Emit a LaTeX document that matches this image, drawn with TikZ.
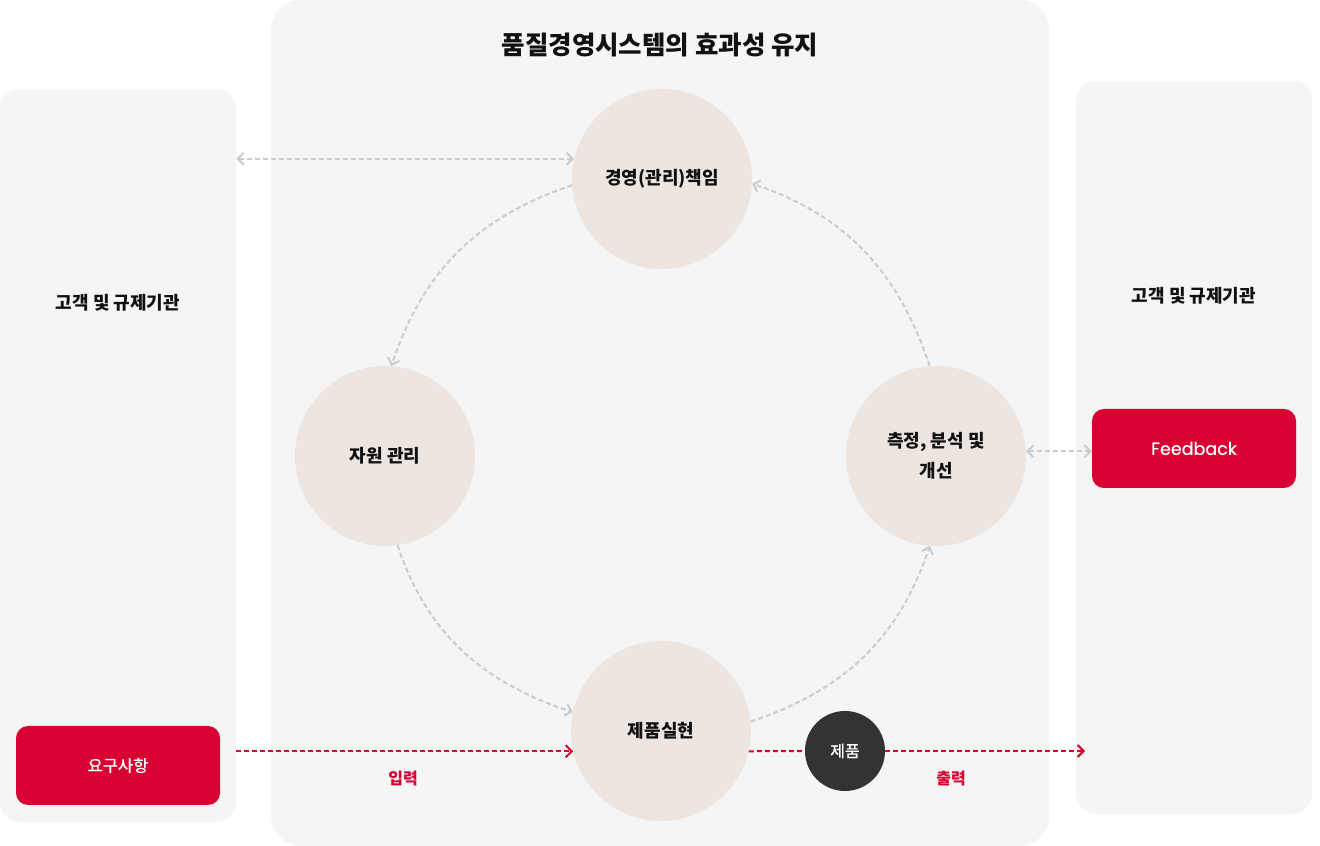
\documentclass[tikz,border=0pt]{standalone}
\usepackage{fontspec}
\setmainfont{Noto Sans CJK KR}
\newfontfamily\latinf[FakeBold=0.6]{Poppins}
\newfontfamily\krmed[FakeBold=0.9]{Noto Sans CJK KR}
\usetikzlibrary{arrows.meta}
\definecolor{panelc}{HTML}{F5F5F5}
\definecolor{circc}{HTML}{EDE5DF}
\definecolor{redc}{HTML}{D90032}
\definecolor{darkc}{HTML}{333333}
\definecolor{grayd}{HTML}{CCCCCC}
\definecolor{txtc}{HTML}{111111}
\tikzset{
  x=1pt,y=1pt,
  >={Straight Barb[length=6pt,width=12pt]},
  panel/.style={fill=panelc,draw=none,inner sep=0pt,anchor=south west},
  bigcirc/.style={circle,fill=circc,draw=none,minimum size=180pt,inner sep=0pt,
    font=\fontsize{18}{30}\selectfont\bfseries,text=txtc,align=center},
  redbox/.style={rectangle,rounded corners=12pt,fill=redc,draw=none,minimum width=204pt,
    minimum height=79pt,inner sep=0pt,text=white},
  gdash/.style={draw=grayd,line width=2pt,dash pattern=on 5pt off 3pt},
  rdash/.style={draw=redc,line width=2pt,dash pattern=on 5pt off 3pt},
  lbl/.style={font=\fontsize{18}{22}\selectfont\bfseries,text=txtc},
  redlbl/.style={font=\fontsize{16}{18}\selectfont\bfseries,text=redc}
}
\begin{document}
\begin{tikzpicture}
\useasboundingbox (0,0) rectangle (1320,846);
\fill[white] (0,0) rectangle (1320,846);
% panels
\node[panel,rounded corners=20pt,minimum width=236pt,minimum height=733pt] (lp) at (0,24) {};
\node[panel,rounded corners=30pt,minimum width=778pt,minimum height=846pt] (cp) at (271,0) {};
\node[panel,rounded corners=20pt,minimum width=236pt,minimum height=733pt] (rp) at (1076,32) {};
% texts
\node[font=\fontsize{25.5}{28}\selectfont\bfseries,text=txtc] (title) at (660,801) {품질경영시스템의 효과성 유지};
\node[lbl] (ll) at (118,543) {고객 및 규제기관};
\node[lbl] (rl) at (1194,550) {고객 및 규제기관};
% circles
\node[bigcirc] (top) at (662,667) {경영(관리)책임};
\node[bigcirc] (left) at (385,390) {자원 관리};
\node[bigcirc] (right) at (936,390) {측정, 분석 및\\개선};
\node[bigcirc] (bot) at (661,115) {제품실현};
\node[circle,fill=darkc,minimum size=80pt,inner sep=0pt,text=white,
  font=\krmed\fontsize{16}{18}\selectfont] (prod) at (845,95) {제품};
% red boxes
\node[redbox,font=\krmed\fontsize{16.5}{18}\selectfont] (req) at (118,80.5) {요구사항};
\node[redbox,font=\latinf\fontsize{17.5}{20}\selectfont] (fb) at (1194,397.5) {Feedback};
% cycle arrows
\draw[gdash,->] (top.184) to[out=198.5,in=71.5] (left.86);
\draw[gdash,->] (left.278) to[out=288.5,in=161.5] (bot.168);
\draw[gdash,->] (bot.6) to[out=18.5,in=251.5] (right.266);
\draw[gdash,->] (right.94) to[out=108.5,in=341.5] (top.357);
% side arrows
\draw[gdash,<->] (lp.east |- top.167) -- (top.167);
\draw[gdash,<->] (right.3) -- (fb.west |- right.3);
% input / output
\draw[rdash,->] (lp.east |- bot.193) -- (bot.193);
\draw[rdash] (bot.-13) -- (prod.west);
\coordinate (outend) at (1085,95);
\draw[rdash,->] (prod.east) -- (outend);
\node[redlbl] (inl) at (403,67) {입력};
\node[redlbl] (outl) at (951,67) {출력};
\end{tikzpicture}
\end{document}
